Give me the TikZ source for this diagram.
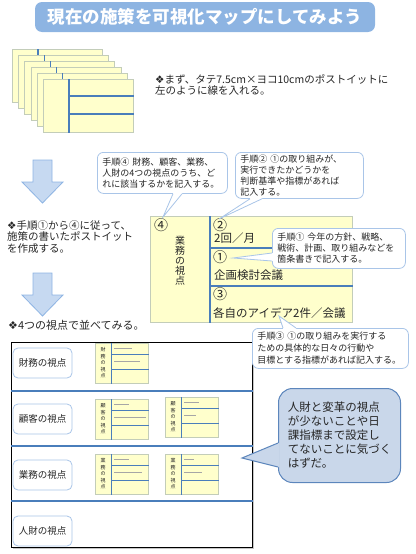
\documentclass[tikz,border=0pt]{standalone}
\usepackage{fontspec}
\setmainfont{Noto Sans CJK JP}
\newfontfamily\symfont{DejaVu Sans}
\usetikzlibrary{positioning, calc, shadows}
\definecolor{titleBlue}{HTML}{8DB4E2}
\definecolor{noteYellow}{HTML}{FFFFCC}
\definecolor{noteEdge}{HTML}{C3CDB9}
\definecolor{lineBlue}{HTML}{4A7EBB}
\definecolor{tipEdge}{HTML}{A9C5E8}
\definecolor{arrowFill}{HTML}{C6D9F1}
\definecolor{arrowEdge}{HTML}{8EB4E3}
\definecolor{bubbleFill}{HTML}{C9D7EA}
\definecolor{bubbleEdge}{HTML}{5C86BC}
\definecolor{textDark}{HTML}{262626}
\newcommand{\bulletdia}{{\symfont\char"2756}}
\tikzset{
  postit/.style={rectangle, draw=noteEdge, fill=noteYellow, line width=0.8pt,
                 inner sep=0pt, anchor=north west},
  divline/.style={lineBlue, line width=1.3pt},
  minidiv/.style={lineBlue, line width=0.8pt},
  tinytext/.style={gray!70, line width=1.2pt},
  rowline/.style={lineBlue, line width=1.8pt},
  tipbox/.style={rectangle, rounded corners=6pt, draw=tipEdge, fill=white, line width=0.8pt,
                 inner xsep=5pt, inner ysep=2pt, align=left, anchor=north west,
                 font=\fontsize{9}{11}\selectfont},
  tipline/.style={draw=tipEdge, line width=0.8pt},
  downarrow/.style={draw=arrowEdge, fill=arrowFill, line width=0.8pt},
  viewbox/.style={rectangle, rounded corners=5pt, draw=tipEdge, fill=white, line width=0.8pt,
                  minimum width=59pt, minimum height=30pt, font=\fontsize{9.5}{11}\selectfont},
  minicard/.style={postit, line width=0.5pt, minimum width=53pt, minimum height=40pt},
  bodytext/.style={anchor=west, align=left, inner sep=0pt, font=\fontsize{10.5}{11.5}\selectfont},
  cardtext/.style={anchor=west, inner sep=0pt, font=\fontsize{11.5}{12}\selectfont},
  cardnum/.style={anchor=west, inner sep=0pt, font=\fontsize{14}{14}\selectfont},
  mapframe/.style={rectangle, draw=black, fill=white, line width=0.8pt, inner sep=0pt,
                   anchor=north west,
                   drop shadow={shadow xshift=2pt, shadow yshift=-2pt, opacity=0.45}},
}
\begin{document}
\begin{tikzpicture}[x=1pt, y=-1pt, text=textDark]
\useasboundingbox (0,0) rectangle (415,554);

\node[fill=titleBlue, rounded corners=7pt, minimum width=340pt, minimum height=30pt,
      text=white, font=\bfseries\fontsize{17.5}{18}\selectfont] (title) at (205,17)
  {現在の施策を可視化マップにしてみよう};

% stack of post-its
\foreach \i in {0,...,5} {
  \node[postit, minimum width=90pt, minimum height=53pt] (sheet\i) at ({12+6.2*\i},{49+6*\i}) {};
  \draw[divline] ($(sheet\i.north west)+(26,0)$) -- ($(sheet\i.south west)+(26,0)$);
  \draw[divline] ($(sheet\i.north west)+(26,17)$) -- ($(sheet\i.north east)+(0,17)$);
  \draw[divline] ($(sheet\i.north west)+(26,35)$) -- ($(sheet\i.north east)+(0,35)$);
}
\node[bodytext] (step1) at (155,85)
  {\bulletdia まず、タテ7.5cm×ヨコ10cmのポストイットに\\左のように線を入れる。};

\filldraw[downarrow] (33,160) -- (52,160) -- (52,182) -- (63,182) -- (42.5,203)
  -- (22,182) -- (33,182) -- cycle;
\node[bodytext] (step2) at (7,237)
  {\bulletdia 手順①から④に従って、\\施策の書いたポストイット\\を作成する。};
\filldraw[downarrow] (33,273) -- (52,273) -- (52,295) -- (63,295) -- (42.5,316)
  -- (22,295) -- (33,295) -- cycle;

% sample post-it
\node[postit, minimum width=202pt, minimum height=106pt] (card) at (150,216) {};
\draw[divline] ($(card.north west)+(60,0)$) -- ($(card.south west)+(60,0)$);
\draw[divline] ($(card.north west)+(60,32)$) -- ($(card.north east)+(0,32)$);
\draw[divline] ($(card.north west)+(60,70)$) -- ($(card.north east)+(0,70)$);
\node[cardnum] (n4) at (154,225) {④};
\node[align=center, inner sep=0pt, font=\fontsize{10}{10}\selectfont] (view) at (180,261)
  {業\\務\\の\\視\\点};
\node[cardnum] (n2) at (213,225) {②};
\node[cardtext] (freq) at (214,238) {2回／月};
\node[cardnum] (n1) at (213,257) {①};
\node[cardtext] (plan) at (214,275) {企画検討会議};
\node[cardnum] (n3) at (213,294) {③};
\node[cardtext] (idea) at (213,313) {各自のアイデア2件／会議};

\node[tipbox, text width=120pt, minimum height=41pt] (tip4) at (97,152)
  {手順④ 財務、顧客、業務、\\人財の4つの視点のうち、ど\\れに該当するかを記入する。};
\coordinate (tip4end) at (163,217);
\fill[white] ($(tip4.south west)+(76,-1.5)$) -- ($(tip4.south west)+(76,0)$) -- (tip4end)
  -- ($(tip4.south west)+(85,0)$) -- ($(tip4.south west)+(85,-1.5)$) -- cycle;
\draw[tipline] ($(tip4.south west)+(76,0)$) -- (tip4end) -- ($(tip4.south west)+(85,0)$);

\node[tipbox, text width=118pt, minimum height=46pt] (tip2) at (235,152)
  {手順② ①の取り組みが、\\実行できたかどうかを\\判断基準や指標があれば\\記入する。};
\coordinate (tip2end) at (219,219);
\fill[white] ($(tip2.south west)+(15,-1.5)$) -- ($(tip2.south west)+(15,0)$) -- (tip2end)
  -- ($(tip2.south west)+(27,0)$) -- ($(tip2.south west)+(27,-1.5)$) -- cycle;
\draw[tipline] ($(tip2.south west)+(15,0)$) -- (tip2end) -- ($(tip2.south west)+(27,0)$);

\node[tipbox, text width=123pt, minimum height=40pt] (tip1) at (272,228)
  {手順① 今年の方針、戦略、\\戦術、計画、取り組みなどを\\箇条書きで記入する。};
\coordinate (tip1end) at (233,258);
\fill[white] ($(tip1.north west)+(1.5,25)$) -- ($(tip1.north west)+(0,25)$) -- (tip1end)
  -- ($(tip1.north west)+(0,33)$) -- ($(tip1.north west)+(1.5,33)$) -- cycle;
\draw[tipline] ($(tip1.north west)+(0,25)$) -- (tip1end) -- ($(tip1.north west)+(0,33)$);

% map of the four views
\node[bodytext, font=\fontsize{11}{12}\selectfont] (step3) at (8,325)
  {\bulletdia 4つの視点で並べてみる。};
\node[mapframe, minimum width=241pt, minimum height=205pt] (map) at (11,342) {};
\foreach \dy in {49,104,159}
  \draw[rowline] ($(map.north west)+(0,\dy)$) -- ($(map.north east)+(0,\dy)$);
\node[viewbox] (fin) at (42.5,363) {財務の視点};
\node[viewbox] (cus) at (42.5,419) {顧客の視点};
\node[viewbox] (ops) at (42.5,475) {業務の視点};
\node[viewbox] (hum) at (42.5,531) {人財の視点};

\foreach \px/\py/\cA/\cB/\wa/\wb/\nm in {95/343/財/務/18/26/m1, 95/399/顧/客/15/32/m2,
    165/397/顧/客/15/12/m3, 95/454/業/務/15/28/m4, 165/454/業/務/10/18/m5} {
  \node[minicard] (\nm) at (\px,\py) {};
  \draw[minidiv] ($(\nm.north west)+(16,0)$) -- ($(\nm.south west)+(16,0)$);
  \draw[minidiv] ($(\nm.north west)+(16,11)$) -- ($(\nm.north east)+(0,11)$);
  \draw[minidiv] ($(\nm.north west)+(16,26)$) -- ($(\nm.north east)+(0,26)$);
  \node[align=center, inner sep=0pt, font=\fontsize{5}{6.5}\selectfont] at ($(\nm.north west)+(8,20)$)
    {\cA\\\cB\\の\\視\\点};
  \draw[tinytext] ($(\nm.north west)+(19,5.5)$) -- ++(\wa,0);
  \draw[tinytext] ($(\nm.north west)+(19,18.5)$) -- ++(\wb,0);
}

\node[tipbox, text width=146pt, minimum height=40pt, font=\fontsize{9}{12}\selectfont] (tip3) at (252,328)
  {手順③ ①の取り組みを実行する\\ための具体的な日々の行動や\\目標とする指標があれば記入する。};
\coordinate (tip3end) at (279,316);
\fill[white] ($(tip3.north west)+(31,1.5)$) -- ($(tip3.north west)+(31,0)$) -- (tip3end)
  -- ($(tip3.north west)+(44,0)$) -- ($(tip3.north west)+(44,1.5)$) -- cycle;
\draw[tipline] ($(tip3.north west)+(31,0)$) -- (tip3end) -- ($(tip3.north west)+(44,0)$);

% comment bubble
\node[rectangle, rounded corners=14pt, draw=bubbleEdge, fill=bubbleFill, line width=1pt,
      minimum width=122pt, minimum height=94pt, anchor=north west, align=left,
      font=\fontsize{11.5}{14}\selectfont] (note) at (278,388)
  {人財と変革の視点\\が少ないことや日\\課指標まで設定し\\てないことに気づく\\はずだ。};
\coordinate (noteend) at (242,458);
\fill[bubbleFill] ($(note.north west)+(1.5,55)$) -- ($(note.north west)+(0,55)$) -- (noteend)
  -- ($(note.north west)+(0,79)$) -- ($(note.north west)+(1.5,79)$) -- cycle;
\draw[bubbleEdge, line width=1pt] ($(note.north west)+(0,55)$) -- (noteend) -- ($(note.north west)+(0,79)$);
\end{tikzpicture}
\end{document}
